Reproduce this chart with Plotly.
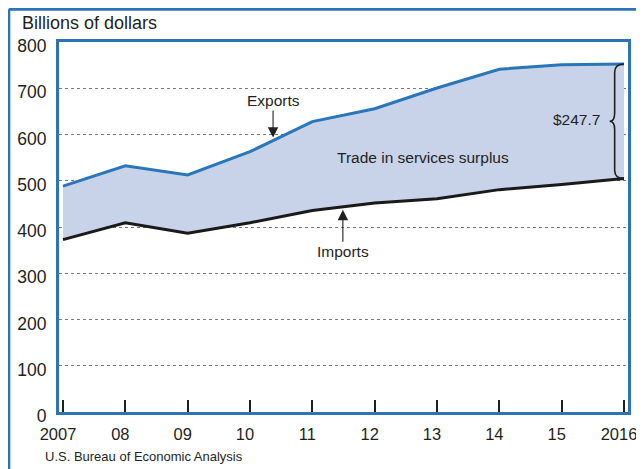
import numpy as np
import plotly.graph_objects as go

# U.S. trade in services, billions of dollars
years = [2007, 2008, 2009, 2010, 2011, 2012, 2013, 2014, 2015, 2016]
exports = [488.4, 532.2, 512.7, 562.8, 627.8, 655.7, 700.5, 741.1, 750.9, 752.4]
imports = [372.6, 409.1, 386.8, 409.3, 435.8, 452.0, 461.1, 480.8, 491.7, 504.7]
year_labels = ["2007", "08", "09", "10", "11", "12", "13", "14", "15", "2016"]
y_ticks = [0, 100, 200, 300, 400, 500, 600, 700, 800]

BLUE = "#2c74b5"
TEXT = "#231f20"
FONT = "Liberation Sans, Arial, Helvetica"

fig = go.Figure()
fig.add_trace(go.Scatter(
    x=years, y=imports, mode="lines", name="Imports",
    line=dict(color="#1a1a1a", width=3), showlegend=False,
))
fig.add_trace(go.Scatter(
    x=years, y=exports, mode="lines", name="Exports",
    line=dict(color="#2a76ba", width=3), fill="tonexty",
    fillcolor="#c8d3ea", showlegend=False,
))

# arrows pointing at the lines
ex_x = 2010.37
im_x = 2011.49
surplus = exports[-1] - imports[-1]
fig.add_annotation(x=ex_x, y=float(np.interp(ex_x, years, exports)), text="Exports",
                   showarrow=True, arrowhead=2, arrowsize=1.9, arrowwidth=1.1,
                   arrowcolor=TEXT, ax=0, ay=-40, standoff=3,
                   font=dict(family=FONT, size=15.5, color=TEXT))
fig.add_annotation(x=im_x, y=float(np.interp(im_x, years, imports)), text="Imports",
                   showarrow=True, arrowhead=2, arrowsize=1.9, arrowwidth=1.1,
                   arrowcolor=TEXT, ax=0, ay=45, standoff=3,
                   font=dict(family=FONT, size=15.5, color=TEXT))
fig.add_annotation(x=2012.78, y=551, text="Trade in services surplus", showarrow=False,
                   font=dict(family=FONT, size=15.5, color=TEXT))
fig.add_annotation(x=2015.64, y=(exports[-1] + imports[-1]) / 2 + 4, text=f"${surplus:.1f}",
                   showarrow=False, xanchor="right",
                   font=dict(family=FONT, size=15.5, color=TEXT))

# curly brace spanning the 2016 gap
top, bot = exports[-1], imports[-1]
mid = (top + bot) / 2
xe, xs, xt, r = 2016.0, 2015.85, 2015.77, 18
brace = (f"M {xe},{top} Q {xs},{top} {xs},{top - r} L {xs},{mid + r} "
         f"Q {xs},{mid} {xt},{mid} Q {xs},{mid} {xs},{mid - r} "
         f"L {xs},{bot + r} Q {xs},{bot} {xe},{bot}")
fig.add_shape(type="path", path=brace, xref="x", yref="y",
              line=dict(color=TEXT, width=1.6))

# outer frame of the figure (left and top edges)
fig.add_shape(type="line", xref="paper", yref="paper", x0=-0.0882, x1=-0.0882,
              y0=-0.3, y1=1.0886, line=dict(color=BLUE, width=3))
fig.add_shape(type="line", xref="paper", yref="paper", x0=-0.0882, x1=1.1,
              y0=1.0886, y1=1.0886, line=dict(color=BLUE, width=3))

fig.add_annotation(xref="paper", yref="paper", x=-0.0685, y=1.05, text="Billions of dollars",
                   showarrow=False, xanchor="left", yanchor="middle",
                   font=dict(family=FONT, size=18, color=TEXT))
fig.add_annotation(xref="paper", yref="paper", x=-0.028, y=-0.1216,
                   text="U.S. Bureau of Economic Analysis",
                   showarrow=False, xanchor="left", yanchor="middle",
                   font=dict(family=FONT, size=13, color=TEXT))

# the page body adds an 8px offset, so the figure is 8px smaller each way
fig.update_layout(
    width=636, height=461,
    margin=dict(l=51, r=16, t=34, b=57),
    paper_bgcolor="white", plot_bgcolor="white",
    xaxis=dict(
        range=[2006.936, 2016.064], tickmode="array", tickvals=years,
        ticktext=year_labels, ticks="inside", ticklen=12, tickwidth=1.5,
        tickcolor=TEXT, showgrid=False, zeroline=False,
        showline=True, mirror=True, linewidth=3, linecolor=BLUE,
        tickfont=dict(family=FONT, size=16.5, color=TEXT),
        ticklabelstandoff=5, ticklabelshift=-5,
        ticklabeloverflow="allow", automargin=False,
    ),
    yaxis=dict(
        range=[0, 800], tickmode="array", tickvals=y_ticks,
        ticks="", showgrid=True, gridcolor="#7a7a7a", gridwidth=1,
        griddash="dot", zeroline=False,
        showline=True, mirror=True, linewidth=3, linecolor=BLUE,
        tickfont=dict(family=FONT, size=17.5, color=TEXT),
        ticklabelstandoff=6, ticklabelshift=4, automargin=False,
    ),
)

fig.write_html("out.html")
